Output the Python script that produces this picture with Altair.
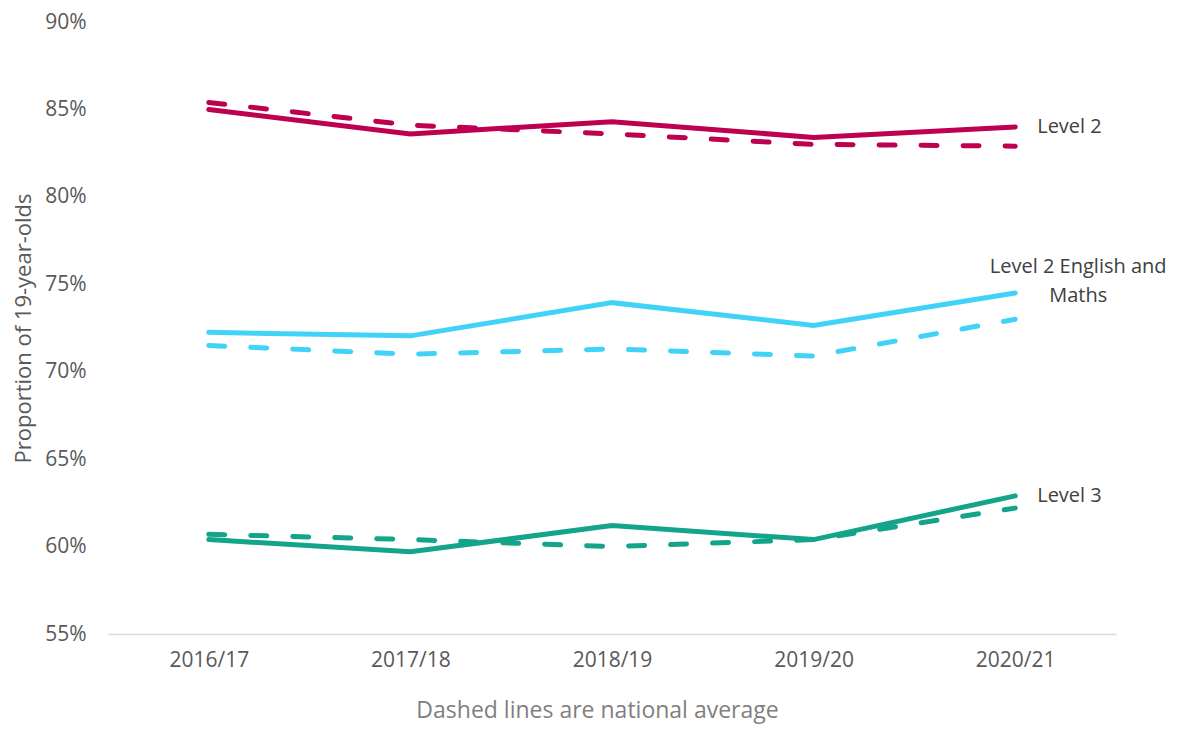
import altair as alt
import pandas as pd

years = ["2016/17", "2017/18", "2018/19", "2019/20", "2020/21"]
series_names = ["Level 2", "Level 2 English and Maths", "Level 3"]
colors = ["#BE0050", "#41D2F8", "#13A48A"]

level2_local = [85.0, 83.6, 84.3, 83.4, 84.0]
level2_national = [85.4, 84.1, 83.6, 83.0, 82.9]
em_local = [72.25, 72.05, 73.95, 72.65, 74.5]
em_national = [71.5, 71.0, 71.3, 70.9, 73.0]
level3_local = [60.4, 59.7, 61.2, 60.4, 62.9]
level3_national = [60.7, 60.4, 60.0, 60.4, 62.2]

rows = []
for name, loc, nat in [
    ("Level 2", level2_local, level2_national),
    ("Level 2 English and Maths", em_local, em_national),
    ("Level 3", level3_local, level3_national),
]:
    for y, a, b in zip(years, loc, nat):
        rows.append({"year": y, "series": name, "kind": "local", "value": a / 100})
        rows.append({"year": y, "series": name, "kind": "national", "value": b / 100})
df = pd.DataFrame(rows)

FONT = "Open Sans"

x = alt.X("year:N", sort=years, scale=alt.Scale(type="point", padding=0.5),
          axis=alt.Axis(title="Dashed lines are national average", labelAngle=0,
                        labelFontSize=21, labelColor="#595959", labelFont=FONT,
                        titleFontSize=23, titleColor="#7f7f7f", titleFont=FONT,
                        titleFontWeight="normal", titlePadding=29, labelPadding=15,
                        titleX=489,
                        domainColor="#d9d9d9", domainWidth=1.5, ticks=False, grid=False))
y = alt.Y("value:Q", scale=alt.Scale(domain=[0.55, 0.90], nice=False, zero=False),
          axis=alt.Axis(title="Proportion of 19-year-olds", format=".0%",
                        values=[0.55, 0.60, 0.65, 0.70, 0.75, 0.80, 0.85, 0.90],
                        labelFontSize=21, labelColor="#595959", labelFont=FONT,
                        titleFontSize=22, titleColor="#595959", titleFont=FONT,
                        titleFontWeight="normal", titlePadding=9, labelPadding=22,
                        domain=False, ticks=False, grid=False))
color = alt.Color("series:N", scale=alt.Scale(domain=series_names, range=colors), legend=None)

base = alt.Chart(df)
national = base.transform_filter(alt.datum.kind == "national").mark_line(
    strokeWidth=5, strokeCap="round", strokeDash=[16, 26]
).encode(x=x, y=y, color=color, detail="series:N")
local = base.transform_filter(alt.datum.kind == "local").mark_line(
    strokeWidth=5, strokeCap="round"
).encode(x=x, y=y, color=color, detail="series:N")

last = df[(df["kind"] == "local") & (df["year"] == years[-1])]
lab_common = dict(fontSize=20, color="#404040", font=FONT)
lab1 = alt.Chart(last[last["series"] == "Level 2"]).mark_text(
    align="left", baseline="middle", dx=22, **lab_common
).encode(x=alt.X("year:N", sort=years), y="value:Q", text="series:N")
lab3 = alt.Chart(last[last["series"] == "Level 3"]).mark_text(
    align="left", baseline="middle", dx=22, **lab_common
).encode(x=alt.X("year:N", sort=years), y="value:Q", text="series:N")
lab2 = alt.Chart(last[last["series"] == "Level 2 English and Maths"]).mark_text(
    align="center", baseline="middle", dx=63, dy=-26, lineBreak="|", lineHeight=29, **lab_common
).encode(x=alt.X("year:N", sort=years), y="value:Q",
         text=alt.value("Level 2 English and|Maths"))

chart = alt.layer(national, local, lab1, lab2, lab3).properties(
    width=1008, height=612,
    autosize=alt.AutoSizeParams(type="none"),
    padding={"left": 100, "top": 14, "right": 56, "bottom": 92},
).configure_view(strokeWidth=0)

chart.save("out.html", embed_options={"renderer": "svg", "actions": False})
